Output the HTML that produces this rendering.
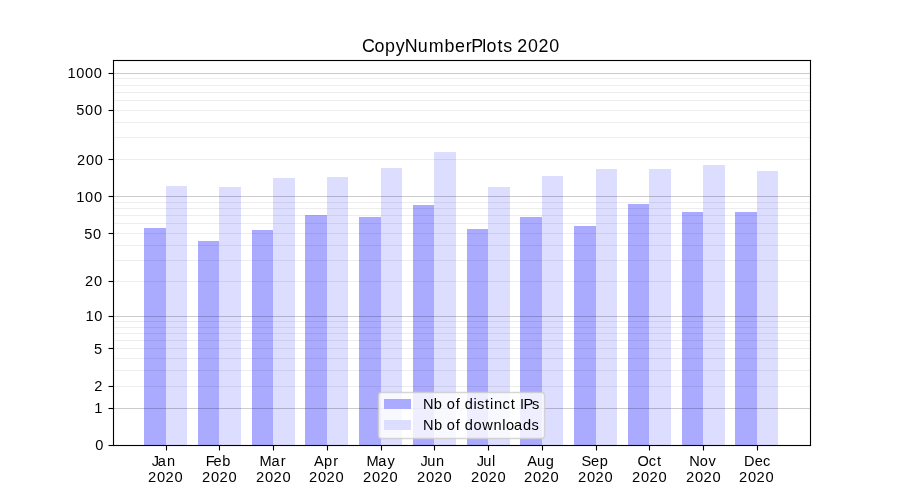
<!DOCTYPE html>
<html>
<head>
<meta charset="utf-8">
<title>CopyNumberPlots 2020</title>
<style>
html,body{margin:0;padding:0;background:#ffffff;}
body{width:900px;height:500px;overflow:hidden;font-family:"Liberation Sans",sans-serif;}
svg{display:block;}
</style>
</head>
<body>
<svg width="900" height="500" viewBox="0 0 900 500">
<rect x="0" y="0" width="900" height="500" fill="#ffffff"/>
<g shape-rendering="crispEdges">
<rect x="144" y="228" width="22" height="217" fill="#aaaaff"/>
<rect x="166" y="186" width="21" height="259" fill="#ddddff"/>
<rect x="198" y="241" width="21" height="204" fill="#aaaaff"/>
<rect x="219" y="187" width="22" height="258" fill="#ddddff"/>
<rect x="252" y="230" width="21" height="215" fill="#aaaaff"/>
<rect x="273" y="178" width="22" height="267" fill="#ddddff"/>
<rect x="305" y="215" width="22" height="230" fill="#aaaaff"/>
<rect x="327" y="177" width="21" height="268" fill="#ddddff"/>
<rect x="359" y="217" width="22" height="228" fill="#aaaaff"/>
<rect x="381" y="168" width="21" height="277" fill="#ddddff"/>
<rect x="413" y="205" width="21" height="240" fill="#aaaaff"/>
<rect x="434" y="152" width="22" height="293" fill="#ddddff"/>
<rect x="467" y="229" width="21" height="216" fill="#aaaaff"/>
<rect x="488" y="187" width="22" height="258" fill="#ddddff"/>
<rect x="520" y="217" width="22" height="228" fill="#aaaaff"/>
<rect x="542" y="176" width="21" height="269" fill="#ddddff"/>
<rect x="574" y="226" width="22" height="219" fill="#aaaaff"/>
<rect x="596" y="169" width="21" height="276" fill="#ddddff"/>
<rect x="628" y="204" width="21" height="241" fill="#aaaaff"/>
<rect x="649" y="169" width="22" height="276" fill="#ddddff"/>
<rect x="682" y="212" width="21" height="233" fill="#aaaaff"/>
<rect x="703" y="165" width="22" height="280" fill="#ddddff"/>
<rect x="735" y="212" width="22" height="233" fill="#aaaaff"/>
<rect x="757" y="171" width="21" height="274" fill="#ddddff"/>
</g>
<g stroke="#000000" stroke-width="1.111" fill="none">
<g stroke-opacity="0.07">
<line x1="113.5" y1="386.5" x2="810.5" y2="386.5"/>
<line x1="113.5" y1="370.5" x2="810.5" y2="370.5"/>
<line x1="113.5" y1="358.5" x2="810.5" y2="358.5"/>
<line x1="113.5" y1="348.5" x2="810.5" y2="348.5"/>
<line x1="113.5" y1="340.5" x2="810.5" y2="340.5"/>
<line x1="113.5" y1="333.5" x2="810.5" y2="333.5"/>
<line x1="113.5" y1="327.5" x2="810.5" y2="327.5"/>
<line x1="113.5" y1="321.5" x2="810.5" y2="321.5"/>
<line x1="113.5" y1="281.5" x2="810.5" y2="281.5"/>
<line x1="113.5" y1="260.5" x2="810.5" y2="260.5"/>
<line x1="113.5" y1="245.5" x2="810.5" y2="245.5"/>
<line x1="113.5" y1="233.5" x2="810.5" y2="233.5"/>
<line x1="113.5" y1="223.5" x2="810.5" y2="223.5"/>
<line x1="113.5" y1="215.5" x2="810.5" y2="215.5"/>
<line x1="113.5" y1="208.5" x2="810.5" y2="208.5"/>
<line x1="113.5" y1="202.5" x2="810.5" y2="202.5"/>
<line x1="113.5" y1="159.5" x2="810.5" y2="159.5"/>
<line x1="113.5" y1="137.5" x2="810.5" y2="137.5"/>
<line x1="113.5" y1="122.5" x2="810.5" y2="122.5"/>
<line x1="113.5" y1="110.5" x2="810.5" y2="110.5"/>
<line x1="113.5" y1="100.5" x2="810.5" y2="100.5"/>
<line x1="113.5" y1="92.5" x2="810.5" y2="92.5"/>
<line x1="113.5" y1="85.5" x2="810.5" y2="85.5"/>
<line x1="113.5" y1="78.5" x2="810.5" y2="78.5"/>
</g>
<g stroke-opacity="0.2">
<line x1="113.5" y1="408.5" x2="810.5" y2="408.5"/>
<line x1="113.5" y1="316.5" x2="810.5" y2="316.5"/>
<line x1="113.5" y1="196.5" x2="810.5" y2="196.5"/>
<line x1="113.5" y1="73.5" x2="810.5" y2="73.5"/>
</g>
</g>
<rect x="378.5" y="392.5" width="166" height="46" rx="3" ry="3" fill="#ffffff" fill-opacity="0.8" stroke="#cccccc" stroke-opacity="0.8" stroke-width="1.389"/>
<rect x="384" y="399" width="27" height="10" fill="#aaaaff" shape-rendering="crispEdges"/>
<rect x="384" y="420" width="27" height="10" fill="#ddddff" shape-rendering="crispEdges"/>
<g fill="#000000">
<rect x="112.9445" y="59.9445" width="1.111" height="386.1110"/>
<rect x="809.9445" y="59.9445" width="1.111" height="386.1110"/>
<rect x="112.9445" y="444.9445" width="698.1110" height="1.111"/>
<rect x="112.9445" y="59.9445" width="698.1110" height="1.111"/>
</g>
<g stroke="#000000" stroke-width="1.111" fill="none">
<line x1="108.5" y1="445.5" x2="113.5" y2="445.5"/>
<line x1="108.5" y1="408.5" x2="113.5" y2="408.5"/>
<line x1="108.5" y1="386.5" x2="113.5" y2="386.5"/>
<line x1="108.5" y1="348.5" x2="113.5" y2="348.5"/>
<line x1="108.5" y1="316.5" x2="113.5" y2="316.5"/>
<line x1="108.5" y1="281.5" x2="113.5" y2="281.5"/>
<line x1="108.5" y1="233.5" x2="113.5" y2="233.5"/>
<line x1="108.5" y1="196.5" x2="113.5" y2="196.5"/>
<line x1="108.5" y1="159.5" x2="113.5" y2="159.5"/>
<line x1="108.5" y1="110.5" x2="113.5" y2="110.5"/>
<line x1="108.5" y1="73.5" x2="113.5" y2="73.5"/>
<line x1="166.5" y1="445.5" x2="166.5" y2="450.5"/>
<line x1="219.5" y1="445.5" x2="219.5" y2="450.5"/>
<line x1="273.5" y1="445.5" x2="273.5" y2="450.5"/>
<line x1="327.5" y1="445.5" x2="327.5" y2="450.5"/>
<line x1="381.5" y1="445.5" x2="381.5" y2="450.5"/>
<line x1="434.5" y1="445.5" x2="434.5" y2="450.5"/>
<line x1="488.5" y1="445.5" x2="488.5" y2="450.5"/>
<line x1="542.5" y1="445.5" x2="542.5" y2="450.5"/>
<line x1="596.5" y1="445.5" x2="596.5" y2="450.5"/>
<line x1="649.5" y1="445.5" x2="649.5" y2="450.5"/>
<line x1="703.5" y1="445.5" x2="703.5" y2="450.5"/>
<line x1="757.5" y1="445.5" x2="757.5" y2="450.5"/>
</g>
<g style="filter:grayscale(1)" fill="#000000" font-family="'Liberation Sans', sans-serif">
<text transform="scale(1.0000,1)" x="95.19" y="449.80" font-size="14.60">0</text>
<text transform="scale(1.0000,1)" x="94.24" y="412.80" font-size="14.60">1</text>
<text transform="scale(1.0000,1)" x="94.19" y="390.80" font-size="14.60">2</text>
<text transform="scale(1.0000,1)" x="93.95" y="353.80" font-size="14.60">5</text>
<text transform="scale(1.0000,1)" x="85.48 94.26" y="320.80" font-size="14.60">10</text>
<text transform="scale(1.0000,1)" x="85.06 94.04" y="285.80" font-size="14.60">20</text>
<text transform="scale(1.0000,1)" x="84.17 93.01" y="238.80" font-size="14.60">50</text>
<text transform="scale(1.0000,1)" x="76.32 85.10 93.92" y="201.80" font-size="14.60">100</text>
<text transform="scale(1.0000,1)" x="76.89 85.88 94.71" y="164.80" font-size="14.60">200</text>
<text transform="scale(1.0000,1)" x="76.25 85.10 93.92" y="114.80" font-size="14.60">500</text>
<text transform="scale(1.0000,1)" x="67.40 76.18 85.01 93.84" y="77.80" font-size="14.60">1000</text>
<text transform="scale(0.9600,1)" x="158.09 164.38 173.90" y="466.00" font-size="15.20">Jan</text>
<text transform="scale(0.9800,1)" x="150.97 160.14 168.99 178.15" y="481.80" font-size="15.00">2020</text>
<text transform="scale(0.9600,1)" x="214.21 222.52 231.61" y="466.00" font-size="15.20">Feb</text>
<text transform="scale(0.9800,1)" x="206.07 215.24 224.09 233.26" y="481.80" font-size="15.00">2020</text>
<text transform="scale(0.9600,1)" x="270.44 282.71 292.58" y="466.00" font-size="15.20">Mar</text>
<text transform="scale(0.9800,1)" x="261.17 270.34 279.19 288.36" y="481.80" font-size="15.00">2020</text>
<text transform="scale(0.9600,1)" x="327.13 337.60 347.06" y="466.00" font-size="15.20">Apr</text>
<text transform="scale(0.9800,1)" x="315.26 324.42 333.27 342.44" y="481.80" font-size="15.00">2020</text>
<text transform="scale(0.9600,1)" x="381.86 394.12 403.77" y="466.00" font-size="15.20">May</text>
<text transform="scale(0.9800,1)" x="370.36 379.53 388.37 397.54" y="481.80" font-size="15.00">2020</text>
<text transform="scale(0.9600,1)" x="438.14 445.00 454.26" y="466.00" font-size="15.20">Jun</text>
<text transform="scale(0.9800,1)" x="425.46 434.63 443.48 452.64" y="481.80" font-size="15.00">2020</text>
<text transform="scale(0.9600,1)" x="496.51 503.36 512.54" y="466.00" font-size="15.20">Jul</text>
<text transform="scale(0.9800,1)" x="480.56 489.73 498.58 507.75" y="481.80" font-size="15.00">2020</text>
<text transform="scale(0.9600,1)" x="549.11 559.40 568.56" y="466.00" font-size="15.20">Aug</text>
<text transform="scale(0.9800,1)" x="534.64 543.81 552.66 561.83" y="481.80" font-size="15.00">2020</text>
<text transform="scale(0.9600,1)" x="605.66 615.53 624.62" y="466.00" font-size="15.20">Sep</text>
<text transform="scale(0.9800,1)" x="589.75 598.91 607.76 616.93" y="481.80" font-size="15.00">2020</text>
<text transform="scale(0.9600,1)" x="664.12 675.72 684.38" y="466.00" font-size="15.20">Oct</text>
<text transform="scale(0.9800,1)" x="644.85 654.02 662.86 672.03" y="481.80" font-size="15.00">2020</text>
<text transform="scale(0.9600,1)" x="717.86 728.93 738.08" y="466.00" font-size="15.20">Nov</text>
<text transform="scale(0.9800,1)" x="699.95 709.12 717.97 727.13" y="481.80" font-size="15.00">2020</text>
<text transform="scale(0.9600,1)" x="774.93 786.20 794.83" y="466.00" font-size="15.20">Dec</text>
<text transform="scale(0.9800,1)" x="754.03 763.20 772.05 781.22" y="481.80" font-size="15.00">2020</text>
<text transform="scale(1.0000,1)" x="422.95 433.85 442.22 446.79 455.76 460.01 464.68 473.51 477.09 484.97 490.04 493.97 502.38 510.69 515.47 519.88 523.51 532.10" y="409.00" font-size="14.60">Nb of distinct IPs</text>
<text transform="scale(1.0000,1)" x="422.99 433.89 442.26 446.83 455.80 460.05 464.72 473.42 482.15 493.47 502.18 505.91 513.96 523.00 531.56" y="429.60" font-size="14.60">Nb of downloads</text>
<text transform="scale(0.9600,1)" x="377.13 390.14 401.07 412.19 421.66 435.10 446.58 463.11 473.85 485.12 490.79 502.31 506.80 518.11 524.12 533.13 538.80 549.99 560.83 572.03" y="51.60" font-size="18.60">CopyNumberPlots 2020</text>
</g>
</svg>
</body>
</html>
